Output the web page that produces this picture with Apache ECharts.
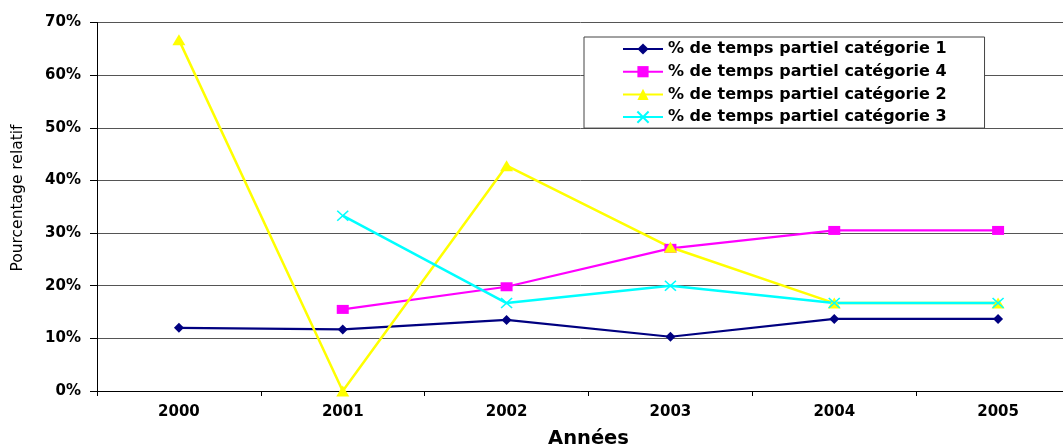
<!DOCTYPE html>
<html>
<head>
<meta charset="utf-8">
<script src="https://cdn.jsdelivr.net/npm/echarts@6/dist/echarts.min.js"></script>
<style>
  html, body { margin: 0; padding: 0; background: #fff; }
  #chart { width: 1063px; height: 446px; }
</style>
</head>
<body>
<div id="chart"></div>
<script>
// Années et pourcentages relatifs de temps partiel par catégorie
const annees = ['2000', '2001', '2002', '2003', '2004', '2005'];
const categorie1 = [12.0, 11.7, 13.5, 10.3, 13.7, 13.7];
const categorie4 = ['-', 15.5, 19.8, 27.1, 30.5, 30.5];
const categorie2 = [66.7, 0, 42.8, 27.3, 16.7, 16.7];
const categorie3 = ['-', 33.3, 16.7, 20.0, 16.7, 16.7];
const nomsSeries = [
  '% de temps partiel catégorie 1',
  '% de temps partiel catégorie 4',
  '% de temps partiel catégorie 2',
  '% de temps partiel catégorie 3'
];

const police = 'DejaVu Sans';
const croix = 'path://M0,0 L10,10 M10,0 L0,10';

const chart = echarts.init(document.getElementById('chart'), null, { renderer: 'canvas' });

chart.setOption({
  animation: false,
  backgroundColor: '#ffffff',
  grid: {
    left: 97, top: 22.5, width: 983, height: 368.5,
    containLabel: false, outerBoundsMode: 'none'
  },
  legend: {
    orient: 'vertical',
    left: 584,
    top: 37,
    padding: [4, 38, 3, 38],
    itemWidth: 40,
    itemHeight: 14,
    itemGap: 6.7,
    backgroundColor: '#ffffff',
    borderColor: '#444',
    borderWidth: 1,
    textStyle: { fontFamily: police, fontWeight: 'bold', fontSize: 16, color: '#000', lineHeight: 14 },
    data: nomsSeries
  },
  xAxis: {
    type: 'category',
    data: annees,
    boundaryGap: true,
    name: 'Années',
    nameLocation: 'middle',
    nameGap: 38,
    nameTextStyle: { fontFamily: police, fontWeight: 'bold', fontSize: 19.5, color: '#000' },
    axisLine: { lineStyle: { color: '#000', width: 1 } },
    axisTick: { show: true, length: 5, inside: false, lineStyle: { color: '#000' } },
    axisLabel: { fontFamily: police, fontWeight: 'bold', fontSize: 15, color: '#000', margin: 14 },
    splitLine: { show: false }
  },
  yAxis: {
    type: 'value',
    min: 0,
    max: 70,
    interval: 10,
    axisLine: { show: true, lineStyle: { color: '#000', width: 1 } },
    axisTick: { show: true, length: 7, lineStyle: { color: '#000' } },
    axisLabel: { fontFamily: police, fontWeight: 'bold', fontSize: 15, color: '#000', margin: 16, formatter: '{value}%' },
    splitLine: { show: true, lineStyle: { color: '#555', width: 1 } }
  },
  graphic: [{
    type: 'text',
    x: 18,
    y: 198,
    rotation: Math.PI / 2,
    style: {
      text: 'Pourcentage relatif',
      fontFamily: police,
      fontSize: 15.5,
      fill: '#000',
      textAlign: 'center',
      textVerticalAlign: 'middle'
    }
  }],
  series: [
    {
      name: nomsSeries[0],
      type: 'line',
      data: categorie1,
      symbol: 'diamond',
      symbolSize: [10, 10],
      lineStyle: { color: '#000080', width: 2.2 },
      itemStyle: { color: '#000080' }
    },
    {
      name: nomsSeries[1],
      type: 'line',
      data: categorie4,
      symbol: 'rect',
      symbolSize: [12, 9],
      lineStyle: { color: '#FF00FF', width: 2.2 },
      itemStyle: { color: '#FF00FF' }
    },
    {
      name: nomsSeries[2],
      type: 'line',
      data: categorie2,
      symbol: 'triangle',
      symbolSize: [13, 11],
      lineStyle: { color: '#FFFF00', width: 2.5 },
      itemStyle: { color: '#FFFF00' }
    },
    {
      name: nomsSeries[3],
      type: 'line',
      data: categorie3,
      symbol: croix,
      symbolSize: [11, 10],
      lineStyle: { color: '#00FFFF', width: 2.5 },
      itemStyle: { color: '#00FFFF', borderColor: '#00FFFF', borderWidth: 1.5 }
    }
  ]
});
</script>
</body>
</html>
